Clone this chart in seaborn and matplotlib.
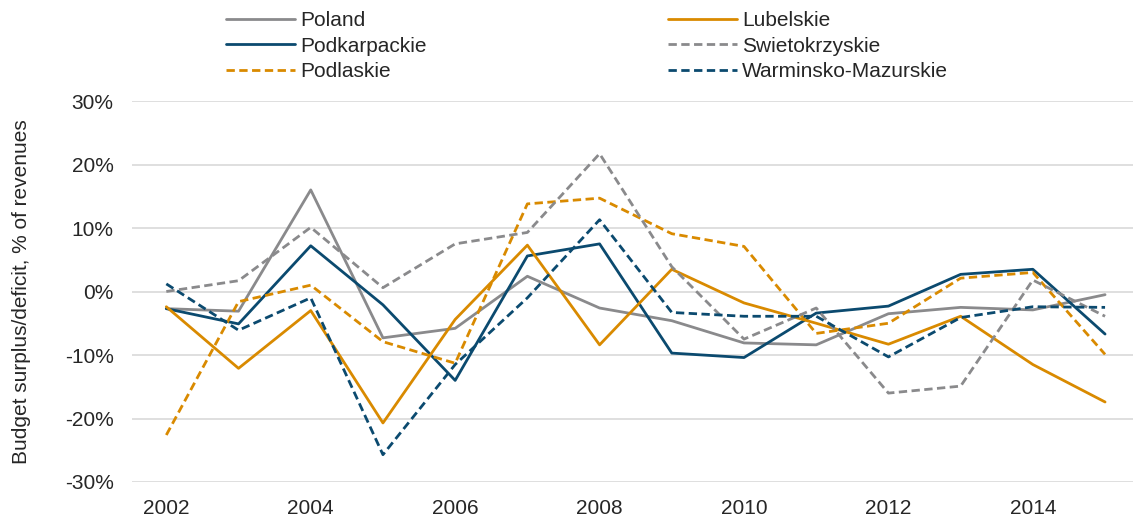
import pandas as pd
import matplotlib.pyplot as plt
import seaborn as sns
from matplotlib.ticker import FuncFormatter

# 数据：预算盈余/赤字占收入的百分比
years = list(range(2002, 2016))
poland = [-2.7, -3.1, 16.0, -7.3, -5.8, 2.4, -2.6, -4.6, -8.1, -8.4, -3.5, -2.5, -2.9, -0.5]
lubelskie = [-2.4, -12.1, -3.0, -20.7, -4.4, 7.3, -8.4, 3.5, -1.8, -5.0, -8.3, -3.9, -11.5, -17.4]
podkarpackie = [-2.7, -5.1, 7.2, -2.1, -14.0, 5.6, 7.5, -9.7, -10.4, -3.4, -2.3, 2.7, 3.5, -6.7]
swietokrzyskie = [0.0, 1.7, 10.1, 0.6, 7.5, 9.3, 21.7, 3.9, -7.5, -2.6, -16.0, -14.9, 1.8, -3.9]
podlaskie = [-22.6, -1.6, 1.0, -7.9, -11.3, 13.8, 14.7, 9.1, 7.1, -6.6, -5.0, 2.1, 3.0, -9.9]
warminsko = [1.2, -6.1, -1.0, -25.7, -11.5, -1.0, 11.3, -3.3, -3.9, -3.9, -10.3, -4.1, -2.4, -2.5]

series = {
    'Poland': poland,
    'Podkarpackie': podkarpackie,
    'Podlaskie': podlaskie,
    'Lubelskie': lubelskie,
    'Swietokrzyskie': swietokrzyskie,
    'Warminsko-Mazurskie': warminsko,
}

gray = '#8a8a8c'
orange = '#d98a00'
navy = '#0b4a6f'
palette = {'Poland': gray, 'Podkarpackie': navy, 'Podlaskie': orange,
           'Lubelskie': orange, 'Swietokrzyskie': gray, 'Warminsko-Mazurskie': navy}
dashes = {'Poland': '', 'Podkarpackie': '', 'Podlaskie': (3, 1.6),
          'Lubelskie': '', 'Swietokrzyskie': (3, 1.6), 'Warminsko-Mazurskie': (3, 1.6)}

df = pd.DataFrame([
    {'year': y, 'value': v, 'region': name}
    for name, vals in series.items() for y, v in zip(years, vals)
])

sns.set_style('white')
plt.rcParams['font.family'] = ['Liberation Sans', 'DejaVu Sans']

fig = plt.figure(figsize=(11.33, 5.18), dpi=100)
ax = fig.add_axes([0.1162, 0.0695, 0.884, 0.7355])

sns.lineplot(data=df, x='year', y='value', hue='region', style='region',
             palette=palette, dashes=dashes, hue_order=list(series.keys()),
             style_order=list(series.keys()), linewidth=2.0, ax=ax, legend=False)

ax.set_ylim(-30, 30)
ax.set_xlim(2001.52, 2015.39)
ax.set_yticks(range(-30, 31, 10))
ax.set_xticks(range(2002, 2015, 2))
ax.yaxis.set_major_formatter(FuncFormatter(lambda v, p: f'{v:.0f}%'))
ax.grid(axis='y', color='#d9d9d9', linewidth=1.2)
ax.set_axisbelow(True)
for s in ax.spines.values():
    s.set_visible(False)
ax.tick_params(axis='both', length=0, labelsize=15)
ax.tick_params(axis='y', pad=13)
ax.tick_params(axis='x', pad=12)
ax.set_xlabel('')
ax.set_ylabel('Budget surplus/deficit, % of revenues', fontsize=15, labelpad=24)

# 图例：两列
handles = []
for k in series:
    h = plt.Line2D([], [], color=palette[k], lw=2.0)
    if dashes[k]:
        h.set_dashes(dashes[k])
    handles.append(h)
fig.legend(handles, list(series.keys()), ncol=2, loc='upper left',
           bbox_to_anchor=(226 / 1133, 1 - 11 / 518), frameon=False, fontsize=15,
           handlelength=3.3, handletextpad=0.25, columnspacing=11.6,
           labelspacing=0.32, borderpad=0, borderaxespad=0)

plt.savefig('out.png', dpi=100)
